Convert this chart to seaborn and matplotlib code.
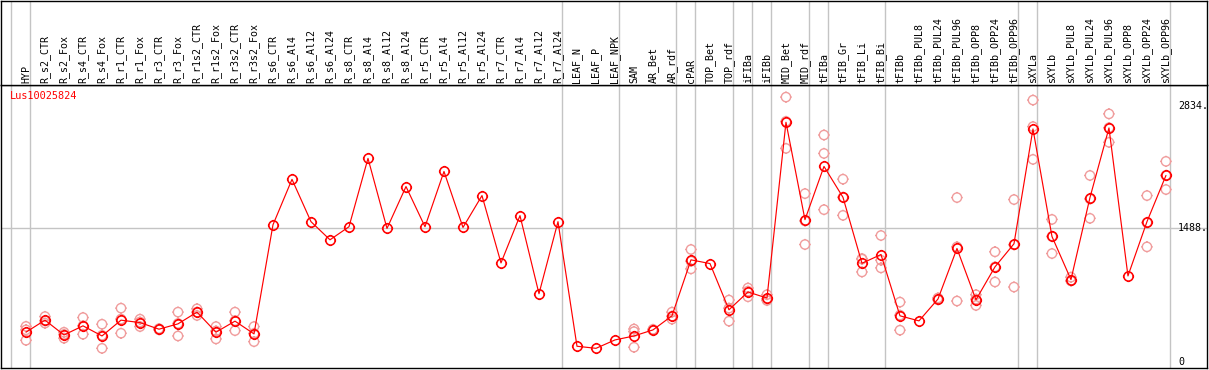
import numpy as np
import pandas as pd
import seaborn as sns
import matplotlib.pyplot as plt
from matplotlib.path import Path

# sample labels, one per column
labels = ["HYP", "R_s2_CTR", "R_s2_Fox", "R_s4_CTR", "R_s4_Fox", "R_r1_CTR", "R_r1_Fox",
          "R_r3_CTR", "R_r3_Fox", "R_r1s2_CTR", "R_r1s2_Fox", "R_r3s2_CTR", "R_r3s2_Fox",
          "R_s6_CTR", "R_s6_Al4", "R_s6_Al12", "R_s6_Al24", "R_s8_CTR", "R_s8_Al4",
          "R_s8_Al12", "R_s8_Al24", "R_r5_CTR", "R_r5_Al4", "R_r5_Al12", "R_r5_Al24",
          "R_r7_CTR", "R_r7_Al4", "R_r7_Al12", "R_r7_Al24", "LEAF_N", "LEAF_P", "LEAF_NPK",
          "SAM", "AR_Bet", "AR_rdf", "cPAR", "TOP_Bet", "TOP_rdf", "iFIBa", "iFIBb",
          "MID_Bet", "MID_rdf", "tFIBa", "tFIB_Gr", "tFIB_Li", "tFIB_Bi", "tFIBb",
          "tFIBb_PUL8", "tFIBb_PUL24", "tFIBb_PUL96", "tFIBb_OPP8", "tFIBb_OPP24",
          "tFIBb_OPP96", "sXYLa", "sXYLb", "sXYLb_PUL8", "sXYLb_PUL24", "sXYLb_PUL96",
          "sXYLb_OPP8", "sXYLb_OPP24", "sXYLb_OPP96"]

# mean expression per sample
means = [331, 464, 300, 401, 289, 464, 437, 364, 423, 553, 331, 453, 312,
         1521, 2024, 1555, 1354, 1499, 2256, 1480, 1944, 1499, 2111, 1491, 1844,
         1098, 1622, 757, 1555, 175, 152, 245,
         289, 356, 512, 1132, 1091, 579, 776, 709,
         2656, 1577, 2167, 1825, 1094, 1191, 512,
         456, 698, 1258, 690, 1054, 1310,
         2582, 1391, 913, 1822, 2593, 954, 1555, 2067]

# replicates (None = not shown)
rep_a = [395, 504, 330, 493, 419, 597, 475, 370, 553, 590, 393, 553, 393,
         None, None, None, None, None, None, None, None, None, None, None, None,
         None, None, None, None, None, None, None,
         337, 362, 553, 1247, None, 687, 820, 746,
         2935, 1866, 2515, 2026, 1146, 1402, 664,
         None, 710, 1822, 746, 1221, 1800,
         2902, 1580, 940, 2067, 2749, None, 1844, 2223]
rep_b = [357, 457, 306, 402, 296, 476, 443, 364, 427, 553, 344, 458, 317,
         None, None, None, None, None, None, None, None, None, None, None, None,
         None, None, None, None, None, None, None,
         366, 356, 508, 1117, None, 597, 785, 699,
         2666, 1563, 2311, 1825, 1140, 1128, 519,
         None, 695, 1276, 697, 1054, 1299,
         2608, 1391, 900, 1807, 2596, None, 1545, 2067]
rep_c = [241, 431, 264, 308, 152, 319, 393, 358, 289, 516, 256, 348, 226,
         None, None, None, None, None, None, None, None, None, None, None, None,
         None, None, None, None, None, None, None,
         164, 350, 475, 1032, None, 453, 723, 682,
         2367, 1302, 1688, 1625, 998, 1043, 353,
         None, 690, 676, 627, 887, 831,
         2245, 1202, 900, 1592, 2434, None, 1276, 1911]

# number of samples in each tissue group (separated by grey lines)
group_sizes = [1, 28, 3, 3, 1, 2, 1, 1, 2, 1, 3, 7, 1, 7]

y_ticks = [0, 1488, 2834]
y_tick_labels = ["0", "1488.", "2834."]
gene = "Lus10025824"

pos = list(range(len(labels)))
reps = pd.DataFrame({"pos": pos * 3, "value": rep_a + rep_b + rep_c}).dropna()

sns.set_theme(style="white")
plt.rcParams['font.family'] = ['DejaVu Sans Mono', 'DejaVu Sans']

# open circle with four little ticks
ang = np.linspace(0, 2 * np.pi, 33)
ring_pts = list(zip(np.cos(ang), np.sin(ang)))
t = 1.22
verts = ring_pts + [(0, 1), (0, t), (0, -1), (0, -t), (1, 0), (t, 0), (-1, 0), (-t, 0)]
codes = [Path.MOVETO] + [Path.LINETO] * 32 + [Path.MOVETO, Path.LINETO] * 4
mk = Path(verts, codes)

W, H = 1209, 370
fig = plt.figure(figsize=(W / 100, H / 100), dpi=100)
ax = fig.add_axes([1 / W, 2 / H, 1206 / W, 283 / H])
hx = fig.add_axes([1 / W, 285 / H, 1206 / W, 84 / H])

xlim = (-1.316, 62.16)
grey = "#c4c4c4"

# separators
bounds = [-1]
for g in group_sizes:
    bounds.append(bounds[-1] + g)
for b in bounds:
    ax.axvline(b + 0.23, color=grey, lw=1, zorder=1)
    hx.axvline(b + 0.23, color=grey, lw=1, zorder=1)
ax.axhline(1488, color=grey, lw=1, zorder=1)

sns.scatterplot(data=reps, x="pos", y="value", marker=mk, s=66, fc="none",
                ec="#f09c9c", linewidth=1, ax=ax, zorder=2, legend=False)
sns.lineplot(x=pos, y=means, color="red", lw=0.85, marker=mk, markersize=8.1,
             mfc="none", mec="red", mew=1.15, ax=ax, zorder=3)

ax.set_xlim(xlim)
ax.set_ylim(-66, 3069)
ax.set_xticks([])
ax.set_yticks([])
ax.set_xlabel("")
ax.set_ylabel("")

for v, lab in zip(y_ticks, y_tick_labels):
    ax.text(0.976, v, lab, transform=ax.get_yaxis_transform(), ha="left", va="center",
            fontsize=7.2, color="black")
ax.text(0.007, 0.98, gene, transform=ax.transAxes, ha="left", va="top",
        fontsize=7.4, color="red")

hx.set_xlim(xlim)
hx.set_ylim(0, 1)
hx.set_xticks([])
hx.set_yticks([])
for i, lab in enumerate(labels):
    hx.text(i, 0.025, lab, transform=hx.get_xaxis_transform(), rotation=90,
            ha="center", va="bottom", fontsize=7.2, color="black")

for a in (ax, hx):
    for s in a.spines.values():
        s.set_color("black")
        s.set_linewidth(1)

fig.savefig("out.png", dpi=100)
